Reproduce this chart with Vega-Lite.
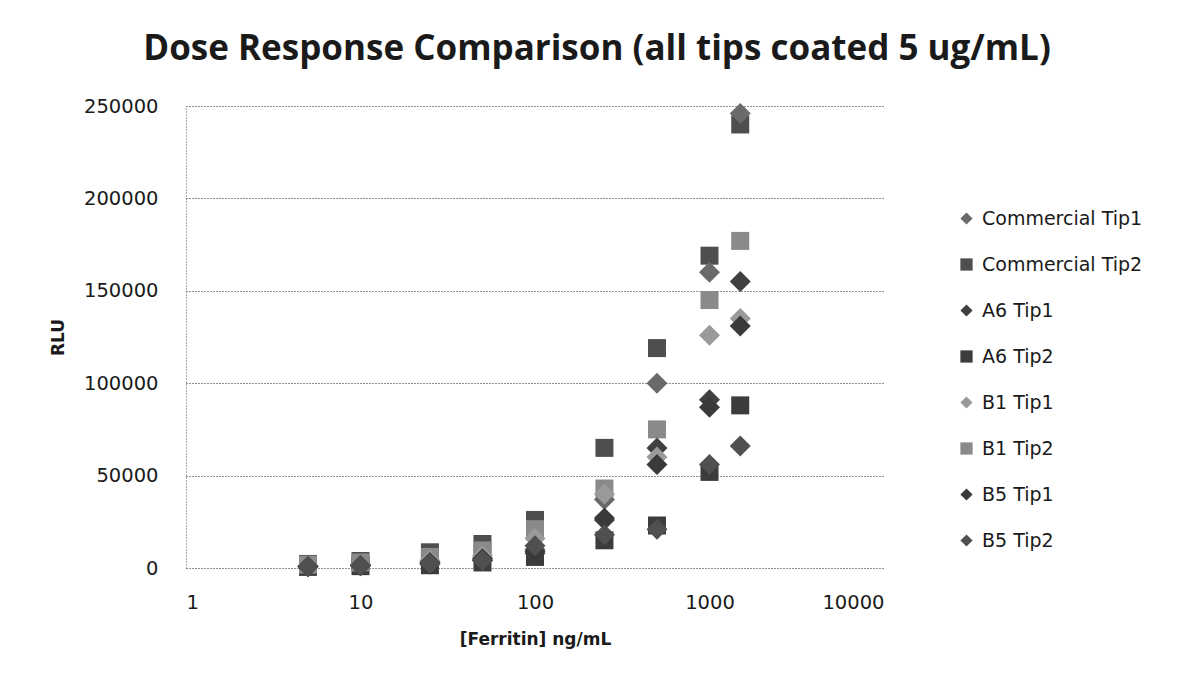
{
  "$schema": "https://vega.github.io/schema/vega-lite/v6.json",
  "autosize": "none",
  "width": 698,
  "height": 462,
  "padding": {"left": 186, "top": 106, "right": 296, "bottom": 122},
  "background": "white",
  "title": {
    "text": "Dose Response Comparison (all tips coated 5 ug/mL)",
    "font": "Open Sans",
    "fontSize": 35,
    "fontWeight": "bold",
    "color": "#1a1a1a",
    "anchor": "middle",
    "frame": "group",
    "offset": 29,
    "dx": 62
  },
  "config": {
    "view": {"stroke": null},
    "font": "DejaVu Sans",
    "legend": {
      "title": null,
      "orient": "none",
      "legendX": 771,
      "legendY": 103,
      "labelFont": "DejaVu Sans",
      "labelFontSize": 19,
      "labelColor": "#1a1a1a",
      "labelLimit": 400,
      "symbolSize": 150,
      "rowPadding": 26,
      "labelOffset": 6
    }
  },
  "data": {
    "values": [
      {"conc": 5, "rlu": 900, "series": "Commercial Tip1"},
      {"conc": 5, "rlu": 2200, "series": "Commercial Tip2"},
      {"conc": 5, "rlu": 700, "series": "A6 Tip1"},
      {"conc": 5, "rlu": 600, "series": "A6 Tip2"},
      {"conc": 5, "rlu": 1200, "series": "B1 Tip1"},
      {"conc": 5, "rlu": 1800, "series": "B1 Tip2"},
      {"conc": 5, "rlu": 800, "series": "B5 Tip1"},
      {"conc": 5, "rlu": 1000, "series": "B5 Tip2"},
      {"conc": 10, "rlu": 1500, "series": "Commercial Tip1"},
      {"conc": 10, "rlu": 3800, "series": "Commercial Tip2"},
      {"conc": 10, "rlu": 1200, "series": "A6 Tip1"},
      {"conc": 10, "rlu": 1000, "series": "A6 Tip2"},
      {"conc": 10, "rlu": 2000, "series": "B1 Tip1"},
      {"conc": 10, "rlu": 3000, "series": "B1 Tip2"},
      {"conc": 10, "rlu": 1500, "series": "B5 Tip1"},
      {"conc": 10, "rlu": 1200, "series": "B5 Tip2"},
      {"conc": 25, "rlu": 3000, "series": "Commercial Tip1"},
      {"conc": 25, "rlu": 8500, "series": "Commercial Tip2"},
      {"conc": 25, "rlu": 2000, "series": "A6 Tip1"},
      {"conc": 25, "rlu": 1500, "series": "A6 Tip2"},
      {"conc": 25, "rlu": 4000, "series": "B1 Tip1"},
      {"conc": 25, "rlu": 6000, "series": "B1 Tip2"},
      {"conc": 25, "rlu": 3000, "series": "B5 Tip1"},
      {"conc": 25, "rlu": 2500, "series": "B5 Tip2"},
      {"conc": 50, "rlu": 5000, "series": "Commercial Tip1"},
      {"conc": 50, "rlu": 13000, "series": "Commercial Tip2"},
      {"conc": 50, "rlu": 4000, "series": "A6 Tip1"},
      {"conc": 50, "rlu": 3000, "series": "A6 Tip2"},
      {"conc": 50, "rlu": 6500, "series": "B1 Tip1"},
      {"conc": 50, "rlu": 9500, "series": "B1 Tip2"},
      {"conc": 50, "rlu": 5000, "series": "B5 Tip1"},
      {"conc": 50, "rlu": 4000, "series": "B5 Tip2"},
      {"conc": 100, "rlu": 10000, "series": "Commercial Tip1"},
      {"conc": 100, "rlu": 26000, "series": "Commercial Tip2"},
      {"conc": 100, "rlu": 8000, "series": "A6 Tip1"},
      {"conc": 100, "rlu": 6000, "series": "A6 Tip2"},
      {"conc": 100, "rlu": 16000, "series": "B1 Tip1"},
      {"conc": 100, "rlu": 21000, "series": "B1 Tip2"},
      {"conc": 100, "rlu": 9000, "series": "B5 Tip1"},
      {"conc": 100, "rlu": 12000, "series": "B5 Tip2"},
      {"conc": 250, "rlu": 37000, "series": "Commercial Tip1"},
      {"conc": 250, "rlu": 65000, "series": "Commercial Tip2"},
      {"conc": 250, "rlu": 26000, "series": "A6 Tip1"},
      {"conc": 250, "rlu": 15000, "series": "A6 Tip2"},
      {"conc": 250, "rlu": 40000, "series": "B1 Tip1"},
      {"conc": 250, "rlu": 43000, "series": "B1 Tip2"},
      {"conc": 250, "rlu": 27000, "series": "B5 Tip1"},
      {"conc": 250, "rlu": 18000, "series": "B5 Tip2"},
      {"conc": 500, "rlu": 100000, "series": "Commercial Tip1"},
      {"conc": 500, "rlu": 119000, "series": "Commercial Tip2"},
      {"conc": 500, "rlu": 65000, "series": "A6 Tip1"},
      {"conc": 500, "rlu": 23000, "series": "A6 Tip2"},
      {"conc": 500, "rlu": 60000, "series": "B1 Tip1"},
      {"conc": 500, "rlu": 75000, "series": "B1 Tip2"},
      {"conc": 500, "rlu": 56000, "series": "B5 Tip1"},
      {"conc": 500, "rlu": 21000, "series": "B5 Tip2"},
      {"conc": 1000, "rlu": 160000, "series": "Commercial Tip1"},
      {"conc": 1000, "rlu": 169000, "series": "Commercial Tip2"},
      {"conc": 1000, "rlu": 91000, "series": "A6 Tip1"},
      {"conc": 1000, "rlu": 52000, "series": "A6 Tip2"},
      {"conc": 1000, "rlu": 126000, "series": "B1 Tip1"},
      {"conc": 1000, "rlu": 145000, "series": "B1 Tip2"},
      {"conc": 1000, "rlu": 87000, "series": "B5 Tip1"},
      {"conc": 1000, "rlu": 56000, "series": "B5 Tip2"},
      {"conc": 1500, "rlu": 246000, "series": "Commercial Tip1"},
      {"conc": 1500, "rlu": 240000, "series": "Commercial Tip2"},
      {"conc": 1500, "rlu": 155000, "series": "A6 Tip1"},
      {"conc": 1500, "rlu": 88000, "series": "A6 Tip2"},
      {"conc": 1500, "rlu": 135000, "series": "B1 Tip1"},
      {"conc": 1500, "rlu": 177000, "series": "B1 Tip2"},
      {"conc": 1500, "rlu": 131000, "series": "B5 Tip1"},
      {"conc": 1500, "rlu": 66000, "series": "B5 Tip2"}
    ]
  },
  "encoding": {
    "x": {
      "field": "conc",
      "type": "quantitative",
      "scale": {"type": "log", "domain": [1, 10000], "nice": false},
      "axis": {
        "title": "[Ferritin] ng/mL",
        "titleFont": "DejaVu Sans",
        "titleFontSize": 17,
        "titleFontWeight": "bold",
        "titleColor": "#1a1a1a",
        "titlePadding": 20,
        "values": [1, 10, 100, 1000, 10000],
        "format": "d",
        "labelFont": "DejaVu Sans",
        "labelFontSize": 19.5,
        "labelColor": "#1a1a1a",
        "labelPadding": 25,
        "domain": false,
        "ticks": false,
        "grid": false
      }
    },
    "y": {
      "field": "rlu",
      "type": "quantitative",
      "scale": {"domain": [0, 250000], "nice": false},
      "axis": {
        "title": "RLU",
        "titleFont": "DejaVu Sans",
        "titleFontSize": 17,
        "titleFontWeight": "bold",
        "titleColor": "#1a1a1a",
        "titlePadding": 16,
        "values": [0, 50000, 100000, 150000, 200000, 250000],
        "format": "d",
        "labelFont": "DejaVu Sans",
        "labelFontSize": 19.5,
        "labelColor": "#1a1a1a",
        "labelPadding": 28,
        "domain": true,
        "domainColor": "#555555",
        "domainDash": [1, 2],
        "domainWidth": 1,
        "ticks": false,
        "grid": true,
        "gridColor": "#222222",
        "gridDash": [1, 2],
        "gridWidth": 1,
        "gridOpacity": 1
      }
    },
    "color": {
      "field": "series",
      "type": "nominal",
      "scale": {
        "domain": ["Commercial Tip1", "Commercial Tip2", "A6 Tip1", "A6 Tip2", "B1 Tip1", "B1 Tip2", "B5 Tip1", "B5 Tip2"],
        "range": ["#6a6a6a", "#4e4e4e", "#404040", "#3c3c3c", "#9a9a9a", "#8a8a8a", "#3a3a3a", "#505050"]
      }
    },
    "shape": {
      "field": "series",
      "type": "nominal",
      "scale": {
        "domain": ["Commercial Tip1", "Commercial Tip2", "A6 Tip1", "A6 Tip2", "B1 Tip1", "B1 Tip2", "B5 Tip1", "B5 Tip2"],
        "range": ["diamond", "square", "diamond", "square", "diamond", "square", "diamond", "diamond"]
      }
    }
  },
  "layer": [
    {
      "transform": [{"filter": {"field": "series", "oneOf": ["Commercial Tip2", "A6 Tip2", "B1 Tip2"]}}],
      "mark": {"type": "point", "filled": true, "opacity": 1, "size": 324}
    },
    {
      "transform": [{"filter": {"field": "series", "oneOf": ["Commercial Tip1", "A6 Tip1", "B1 Tip1", "B5 Tip1", "B5 Tip2"]}}],
      "mark": {"type": "point", "filled": true, "opacity": 1, "size": 441}
    }
  ]
}
